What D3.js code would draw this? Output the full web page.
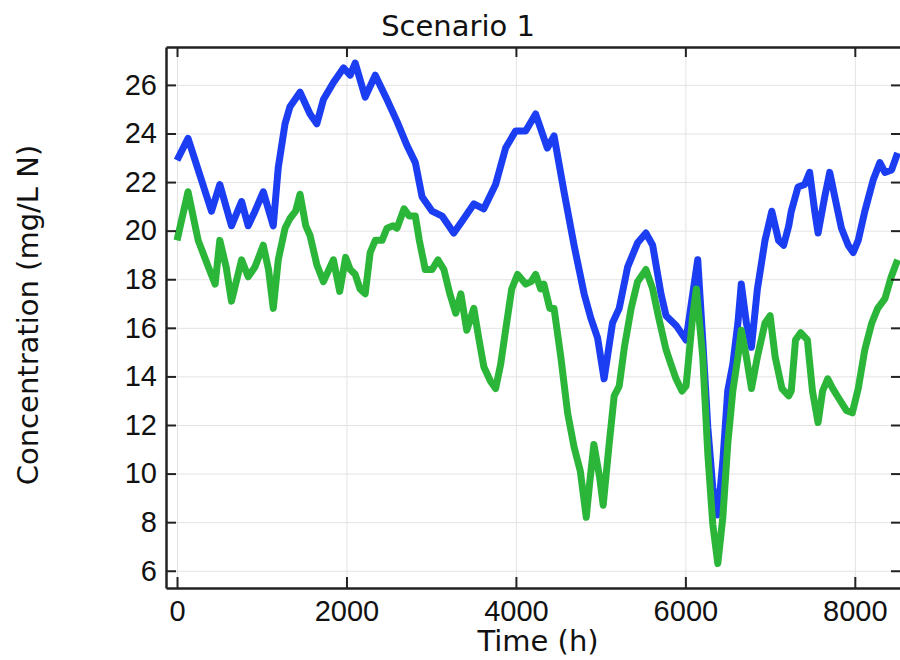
<!DOCTYPE html>
<html>
<head>
<meta charset="utf-8">
<script src="https://cdn.jsdelivr.net/npm/d3@7"></script>
<style>
  body { margin: 0; background: #fff; }
  svg { font-family: "DejaVu Sans", sans-serif; }
  .grid line { stroke: #e3e3e3; stroke-width: 1; }
  .grid path { display: none; }
  .axis text { font-size: 29px; fill: #111; }
  .axis line { stroke: #222; stroke-width: 2; }
  .axis path { stroke: #222; stroke-width: 2.5; }
</style>
</head>
<body>
<div id="chart"></div>
<script>
/** data **/
const xTicks = [0, 2000, 4000, 6000, 8000];
const yTicks = [6, 8, 10, 12, 14, 16, 18, 20, 22, 24, 26];

// upper (blue) series
const upperTime = [0, 130, 250, 407, 505, 643, 762, 840, 920, 1018, 1136, 1195, 1275, 1333, 1452, 1570, 1650, 1728, 1846, 1965,
    2044, 2103, 2221, 2340, 2478, 2596, 2715, 2813, 2892, 3011, 3129, 3266, 3366, 3503, 3621, 3760, 3878, 3996, 4115, 4233,
    4292, 4371, 4450, 4568, 4686, 4805, 4884, 4963, 5041, 5140, 5219, 5318, 5436, 5535, 5614, 5712, 5772, 5890, 6008, 6087,
    6146, 6205, 6265, 6324, 6383, 6442, 6500, 6560, 6620, 6660, 6720, 6780, 6850, 6940, 7020, 7100, 7160, 7220, 7250, 7330,
    7408, 7467, 7527, 7566, 7645, 7704, 7763, 7842, 7922, 7981, 8040, 8118, 8218, 8296, 8355, 8434, 8505];
const upperConc = [22.9, 23.8, 22.5, 20.8, 21.9, 20.2, 21.2, 20.2, 20.8, 21.6, 20.2, 22.6, 24.4, 25.1, 25.7, 24.8, 24.4, 25.4, 26.1, 26.7,
    26.4, 26.9, 25.5, 26.4, 25.4, 24.5, 23.5, 22.8, 21.4, 20.8, 20.6, 19.9, 20.4, 21.1, 20.9, 21.9, 23.4, 24.1, 24.1, 24.8,
    24.2, 23.4, 23.9, 21.6, 19.4, 17.4, 16.4, 15.6, 13.9, 16.2, 16.8, 18.5, 19.5, 19.9, 19.4, 17.4, 16.5, 16.1, 15.5, 17.4,
    18.8, 15.5, 11.9, 9.4, 8.3, 10.5, 13.4, 14.5, 16.2, 17.8, 16.2, 15.2, 17.6, 19.6, 20.8, 19.6, 19.4, 20.2, 20.8, 21.8,
    21.9, 22.4, 20.8, 19.9, 21.4, 22.4, 21.4, 20.1, 19.4, 19.1, 19.6, 20.8, 22.1, 22.8, 22.4, 22.5, 23.2];

// lower (green) series
const lowerTime = [0, 130, 250, 370, 450, 505, 580, 643, 762, 840, 920, 1018, 1080, 1136, 1195, 1275, 1333, 1400, 1452, 1520,
    1570, 1650, 1728, 1846, 1920, 1990, 2044, 2103, 2160, 2221, 2280, 2340, 2420, 2478, 2550, 2596, 2680, 2740, 2813, 2860,
    2930, 3011, 3080, 3150, 3220, 3290, 3350, 3420, 3503, 3560, 3621, 3700, 3760, 3820, 3878, 3950, 4020, 4115, 4180, 4233,
    4292, 4330, 4400, 4450, 4530, 4610, 4686, 4760, 4830, 4870, 4920, 4990, 5030, 5100, 5160, 5219, 5280, 5360, 5436, 5535,
    5614, 5680, 5772, 5830, 5890, 5960, 6008, 6087, 6130, 6205, 6265, 6324, 6383, 6442, 6500, 6560, 6620, 6660, 6720, 6780,
    6850, 6940, 7000, 7060, 7140, 7220, 7250, 7300, 7360, 7440, 7500, 7566, 7620, 7680, 7740, 7810, 7900, 7970, 8040, 8118,
    8200, 8270, 8355, 8430, 8505];
const lowerConc = [19.6, 21.6, 19.6, 18.5, 17.8, 19.6, 18.5, 17.1, 18.8, 18.1, 18.5, 19.4, 18.4, 16.8, 18.8, 20.1, 20.5, 20.8, 21.5, 20.2,
    19.8, 18.6, 17.9, 18.8, 17.5, 18.9, 18.4, 18.2, 17.6, 17.4, 19.1, 19.6, 19.6, 20.1, 20.2, 20.1, 20.9, 20.6, 20.6, 19.6,
    18.4, 18.4, 18.8, 18.4, 17.4, 16.6, 17.4, 15.9, 16.8, 15.6, 14.4, 13.8, 13.5, 14.5, 15.9, 17.6, 18.2, 17.8, 17.9, 18.2,
    17.6, 17.8, 16.8, 16.8, 14.8, 12.5, 11.1, 10.1, 8.2, 9.6, 11.2, 9.8, 8.7, 11.2, 13.2, 13.6, 15.2, 16.8, 17.9, 18.4,
    17.6, 16.5, 15.1, 14.5, 13.9, 13.4, 13.6, 16.5, 17.6, 14.8, 10.8, 7.9, 6.3, 8.2, 11.2, 13.4, 14.8, 15.9, 14.8, 13.5,
    14.8, 16.2, 16.5, 14.8, 13.5, 13.2, 13.4, 15.5, 15.8, 15.5, 13.4, 12.1, 13.4, 13.9, 13.5, 13.1, 12.6, 12.5, 13.5, 15.1,
    16.2, 16.8, 17.2, 18.1, 18.8];

const seriesList = [
    { name: "upper", time: upperTime, conc: upperConc, color: "#1c3ef2" },
    { name: "lower", time: lowerTime, conc: lowerConc, color: "#2bb63a" }
];

/** layout **/
const totalWidth = 900;
const totalHeight = 660;
const margin = { top: 47, right: -1, bottom: 72, left: 166 };
const width = totalWidth - margin.left - margin.right;
const height = totalHeight - margin.top - margin.bottom;

const svg = d3.select("#chart")
    .append("svg")
    .attr("width", totalWidth)
    .attr("height", totalHeight);

const g = svg.append("g")
    .attr("transform", `translate(${margin.left},${margin.top})`);

const x = d3.scaleLinear().domain([-130, 8545]).range([0, width]);
const y = d3.scaleLinear().domain([5.29, 27.56]).range([height, 0]);

// grid
g.append("g")
    .attr("class", "grid")
    .attr("transform", `translate(0,${height})`)
    .call(d3.axisBottom(x).tickValues(xTicks).tickSize(-height).tickFormat(""));
g.append("g")
    .attr("class", "grid")
    .call(d3.axisLeft(y).tickValues(yTicks).tickSize(-width).tickFormat(""));

// lines
const line = d3.line()
    .x(d => x(d[0]))
    .y(d => y(d[1]));

seriesList.forEach(s => {
    const pts = s.time.map((t, i) => [t, s.conc[i]]);
    g.append("path")
        .datum(pts)
        .attr("fill", "none")
        .attr("stroke", s.color)
        .attr("stroke-width", 7)
        .attr("stroke-linejoin", "round")
        .attr("d", line);
});

// axes with inward ticks
g.append("g")
    .attr("class", "axis")
    .call(d3.axisLeft(y).tickValues(yTicks).tickSize(-10).tickSizeOuter(0).tickPadding(9));

g.append("g")
    .attr("class", "axis")
    .attr("transform", `translate(${width},0)`)
    .call(d3.axisRight(y).tickValues(yTicks).tickSize(-10).tickSizeOuter(0).tickFormat(""));

g.append("g")
    .attr("class", "axis")
    .attr("transform", `translate(0,${height})`)
    .call(d3.axisBottom(x).tickValues(xTicks).tickSize(-11).tickSizeOuter(0).tickPadding(12).tickFormat(d3.format("d")));

g.append("g")
    .attr("class", "axis top")
    .call(d3.axisTop(x).tickValues(xTicks).tickSize(-10).tickSizeOuter(0).tickFormat(""));
g.select(".axis.top path").attr("stroke", "#444").attr("stroke-width", 2);

// titles
svg.append("text")
    .attr("x", 458)
    .attr("y", 36)
    .attr("text-anchor", "middle")
    .attr("font-size", "29px")
    .attr("fill", "#111")
    .text("Scenario 1");

svg.append("text")
    .attr("x", 538)
    .attr("y", 651)
    .attr("text-anchor", "middle")
    .attr("font-size", "29px")
    .attr("fill", "#111")
    .text("Time (h)");

svg.append("text")
    .attr("transform", `translate(38,315) rotate(-90)`)
    .attr("text-anchor", "middle")
    .attr("font-size", "29px")
    .attr("fill", "#111")
    .text("Concentration (mg/L N)");
</script>
</body>
</html>
